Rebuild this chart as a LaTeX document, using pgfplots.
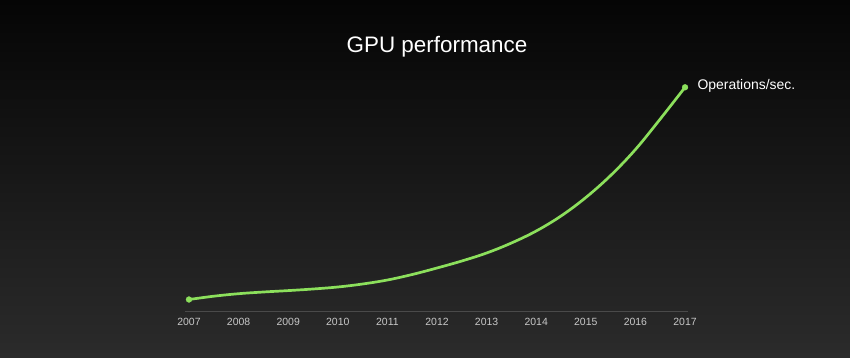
\documentclass[border=0pt]{standalone}
\usepackage{pgfplots}
\pgfplotsset{compat=1.18}
\usepackage{fontspec}
\setmainfont{Liberation Sans}
\definecolor{bgtop}{HTML}{050505}
\definecolor{bgbot}{HTML}{2B2B2B}
\definecolor{curve}{HTML}{8CE05C}
\definecolor{axisgray}{HTML}{4A4A4A}
\definecolor{ticktext}{HTML}{C8C8C8}
\begin{document}
\begin{tikzpicture}[x=1bp,y=1bp]
\shade[top color=bgtop,bottom color=bgbot] (0,0) rectangle (850,357);
\path[use as bounding box] (0,0) rectangle (850,357);
\node[text=white,font=\fontsize{22.5}{27}\selectfont] at (437,310) {GPU performance};
\begin{axis}[
  at={(185bp,46bp)}, anchor=south west,
  scale only axis, width=503bp, height=230bp,
  xmin=2006.92, xmax=2017.06, ymin=0, ymax=230,
  axis x line=bottom, axis y line=none,
  axis line style={draw=axisgray, line width=1bp, -},
  xtick={2007,2008,...,2017}, major tick length=0pt,
  /pgf/number format/assume math mode=true,
  /pgf/number format/set thousands separator={},
  x tick label style={text=ticktext, font=\fontsize{10.5}{12}\selectfont, yshift=-4bp},
  clip=false,
]
\addplot[curve, line width=2.7bp, smooth, tension=0.6] coordinates {
 (2007,11.5) (2007.5,14.8) (2008,17.3) (2008.5,19) (2009,20.4) (2009.5,22)
 (2010,24) (2010.5,27) (2011,31) (2011.5,36.5) (2012,43) (2012.5,50)
 (2013,58) (2013.5,68) (2014,80) (2014.5,95) (2015,113.5) (2015.5,135.5)
 (2016,161.5) (2016.5,192) (2017,223.7)};
\addplot[only marks, mark=*, mark size=2.9bp, curve] coordinates {(2007,11.5) (2017,223.7)};
\node[anchor=west, text=white, font=\fontsize{14}{16}\selectfont, xshift=9bp, yshift=1.5bp] at (axis cs:2017,223.7) {Operations/sec.};
\end{axis}
\end{tikzpicture}
\end{document}
